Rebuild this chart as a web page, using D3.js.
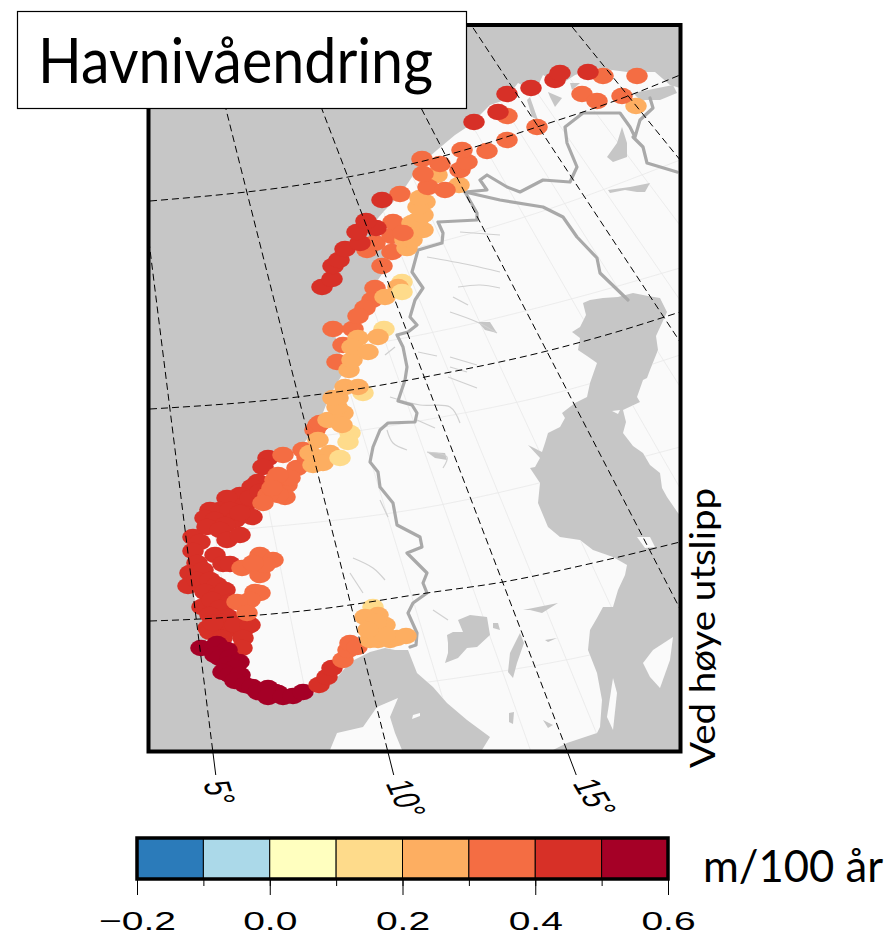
<!DOCTYPE html>
<html><head><meta charset="utf-8">
<script src="https://cdn.jsdelivr.net/npm/d3@7"></script>
<style>html,body{margin:0;padding:0;background:#fff}svg{display:block}</style>
</head><body>
<script>
// ---------- data (map grid units: east, north; value in m/100 yr) ----------
const colourBreaks = [-0.2,-0.1,0,0.1,0.2,0.3,0.4,0.5,0.6];
const colourValues = ["#2b7bba","#abd9e9","#ffffbf","#fedb8b","#fdae61","#f46d43","#d73027","#a50026"];
const colourTickLabels = [-0.2,0,0.2,0.4,0.6];
const meridianLabels = [5,10,15];
const meridiansDashed = [5,10,15,20,25,30];
const meridiansFaint = [2,4,6,8,12,14,16,18,22,24,26,28];

const stationsWest = [[118,292,.45],[113,283,.45],[108,268,.45],[102,263,.45],[90,255,.45],[77,252,.45],[95,245,.45],[100,252,.45],[110,258,.45],[70,240,.45],[60,240,.45],[80,240,.45],[55,232,.45],[65,230,.45],[85,230,.45],[75,225,.45],[102,233,.45],[90,237,.45],[57,223,.45],[70,220,.45],[77,210,.45],[90,215,.45],[43,213,.45],[50,208,.45],[43,199,.45],[65,195,.45],[47,187,.45],[73,186,.45],[80,186,.45],[40,177,.45],[53,180,.45],[38,164,.45],[47,170,.45],[60,170,.45],[67,165,.45],[55,158,.45],[68,155,.45],[75,160,.45],[52,143,.45],[62,150,.45],[80,148,.45],[70,142,.45],[78,133,.45],[60,135,.45],[72,128,.45],[88,128,.45],[58,122,.45],[93,120,.45],[77,120,.45],[60,118,.45],[72,112,.45],[85,125,.45],[100,125,.45],[93,112,.45],[92,102,.45],[63,127,.45]];
const stationsFjords = [[133,295,.35],[147,282,.35],[137,265,.35],[125,270,.35],[140,272,.35],[135,253,.35],[128,255,.35],[118,255,.35],[128,275,.35],[113,247,.35],[122,262,.35],[153,300,.35],[157,293,.35],[110,195,.35],[123,190,.35],[92,182,.35],[110,175,.35],[115,185,.35],[105,158,.35],[110,157,.35],[100,150,.35],[87,148,.35],[97,137,.35],[103,187,.35],[165,320,.35],[168,325,.35],[170,327,.35]];
const stationsSouth = [[51,102,.55],[67,106,.55],[77,100,.55],[65,95,.55],[70,92,.55],[80,92,.55],[89,88,.55],[77,85,.55],[85,82,.55],[73,78,.55],[80,75,.55],[90,75,.55],[85,69,.55],[95,65,.55],[102,63,.55],[108,58,.55],[118,62,.55],[125,58,.55],[128,57,.55],[118,53,.55],[133,53,.55],[143,54,.55],[153,58,.55],[169,65,.45],[177,73,.45],[182,82,.45],[193,90,.35],[198,100,.35],[200,107,.35],[207,103,.35]];
const stationsOslo = [[223,143,.15],[228,135,.25],[215,133,.25],[227,123,.25],[225,120,.25],[235,125,.25],[220,110,.25],[228,110,.25],[240,110,.25],[247,112,.25],[256,114,.25],[235,115,.25],[226,128,.25],[218,120,.25]];
const stationsMid = [[168,310,.25],[163,285,.25],[170,287,.25],[180,297,.25],[160,297,.25],[173,287,.25],[200,317,.15],[198,308,.15],[190,292,.15],[213,357,.15],[187,333,.25],[178,330,.25],[193,337,.25],[187,343,.25],[188,352,.25],[195,363,.25],[208,363,.25],[183,352,.25],[192,325,.25],[187,388,.35],[193,405,.35],[183,421,.35],[203,421,.35],[234,421,.15],[199,380,.25],[202,390,.25],[208,412,.25],[202,403,.25],[218,398,.25],[228,413,.25],[225,462,.35],[222,450,.35],[215,442,.35],[208,434,.35],[252,468,.15],[235,453,.25],[248,463,.25],[252,458,.15]];
const stationsHelgeland = [[217,500,.35],[225,507,.35],[242,498,.35],[232,484,.35],[242,514,.35],[243,528,.35],[250,556,.35],[257,502,.25],[263,520,.25],[255,510,.25],[262,510,.25],[273,520,.25],[262,527,.25],[268,530,.25],[273,535,.25],[275,548,.25],[268,543,.25],[270,552,.25],[253,517,.35],[172,463,.45],[182,471,.45],[183,484,.45],[189,490,.45],[195,501,.45],[210,507,.45],[207,518,.45],[226,522,.45],[216,529,.45],[232,550,.45]];
const stationsNorth = [[287,575,.25],[309,565,.25],[278,563,.35],[295,560,.35],[273,576,.35],[272,591,.35],[290,586,.35],[310,580,.35],[317,588,.35],[312,600,.35],[337,599,.35],[357,610,.35],[387,623,.35],[357,634,.35],[324,628,.45],[348,638,.45],[357,656,.45],[381,662,.45],[486,644,.25],[472,654,.35],[432,656,.35],[447,649,.35],[453,674,.35],[487,674,.35],[405,670,.45],[410,677,.45],[438,678,.45]];

const landMain = [[258,100],[245,100],[235,102],[220,98],[200,88],[185,70],[168,58],[150,52],[133,47],[115,52],[95,60],[75,72],[62,90],[55,100],[58,120],[45,150],[40,175],[45,205],[55,235],[80,255],[112,280],[150,302],[168,325],[180,355],[195,380],[185,415],[212,440],[228,470],[240,488],[235,505],[222,525],[235,540],[250,555],[270,585],[287,600],[305,615],[320,625],[340,645],[355,650],[368,667],[385,658],[393,675],[410,665],[425,675],[447,682],[477,678],[505,678],[520,665],[530,662],[530,235],[528,237],[517,253],[512,262],[510,277],[500,285],[493,297],[483,304],[473,317],[476,328],[473,340],[490,348],[487,353],[493,370],[497,372],[500,380],[508,400],[506,414],[512,427],[517,438],[510,452],[498,454],[483,457],[468,453],[453,452],[440,450],[433,447],[436,435],[430,423],[422,418],[430,412],[428,400],[437,394],[447,387],[440,367],[437,353],[425,347],[412,337],[415,332],[410,323],[398,317],[395,307],[392,298],[378,305],[390,292],[385,283],[380,282],[390,267],[388,247],[398,223],[410,213],[430,210],[443,200],[463,193],[477,185],[475,175],[468,160],[463,143],[453,143],[447,132],[440,120],[438,100],[447,77],[452,50],[450,23],[447,17],[417,7],[403,0],[332,0],[340,13],[317,30],[297,47],[283,63],[267,77]];
const landDenmark = [[180,0],[187,17],[213,23],[227,43],[248,52],[240,33],[245,17],[252,0]];
const landIslet = [[263,35],[270,37],[270,34],[262,31]];
const landGotland = [[493,87],[503,100],[523,113],[520,90],[510,62],[500,73]];
const landOland = [[463,72],[467,57],[463,20],[457,33]];
const landAland = [[487,213],[500,213],[505,203],[495,202]];
const landIslet2 = [[462,339],[470,340],[468,336]];

const lakeVanern = [[308,130],[320,135],[337,133],[340,115],[327,103],[317,102],[308,92],[295,87],[298,97],[298,107],[297,115],[303,118],[313,118]];
const lakeVattern = [[370,117],[374,107],[367,87],[363,72],[358,78],[360,97]];
const lakeMalaren = [[373,140],[408,147],[392,137],[380,140]];
const lakeHjalmaren = [[395,110],[407,112],[398,108]];
const lakeSmall = [[343,122],[350,120],[348,127],[343,127]];
const lakeInari = [[457,593],[467,607],[472,623],[477,607],[477,593],[463,588]];
const lakeFinland = [[458,560],[480,563],[500,567],[495,558],[487,558],[475,560],[460,557]];
const lakeSouth1 = [[359,37],[364,38],[363,26],[359,28]];
const lakeSouth2 = [[393,30],[403,25],[398,22]];
const lakeStor = [[328,428],[340,428],[347,417],[335,420]];
const lakeJamt = [[277,298],[295,297],[297,290],[285,292]];
const fjordVaranger = [[483,657],[523,665],[527,657],[510,650],[490,650]];
const fjordPorsanger = [[380,653],[388,630],[382,633],[377,650]];
const fjordLakse = [[398,658],[412,652],[405,643],[400,653]];
const fjordTana = [[420,667],[430,667],[422,660]];

const thinLakes = [
 [[300,438],[327,428],[347,417]],[[303,453],[318,445]],[[308,463],[330,465],[350,462]],
 [[300,393],[327,385]],[[300,383],[317,378]],[[298,373],[327,362]],
 [[240,353],[270,345],[300,343],[310,327]],[[267,330],[285,322]],[[277,298],[297,293],[293,282]],
 [[237,320],[243,307],[257,300]],[[268,398],[287,394]],[[203,192],[223,182],[235,170]],
 [[230,250],[238,233]],[[200,177],[213,157]],[[283,140],[298,130]],
 [[277,493],[320,485],[350,478]],[[310,518],[350,515]],[[235,395],[245,403]]
];

const borderNorwaySweden = [[260,103],[266,105],[267,117],[258,137],[263,147],[277,157],[273,167],[277,177],[257,197],[272,203],[270,213],[247,225],[243,247],[230,263],[228,278],[220,288],[223,303],[230,320],[238,327],[265,328],[267,337],[262,345],[248,349],[255,370],[257,383],[253,403],[247,415],[258,418],[267,425],[260,433],[265,450],[273,462],[262,478],[268,500],[292,507],[293,517],[288,528],[327,530],[327,537],[315,558],[337,560],[330,570],[337,575],[357,563],[370,558],[393,570],[420,568],[427,583],[417,607],[415,623],[433,637],[470,637],[480,623],[485,613],[490,630],[503,642],[500,652]];
const borderSwedenFinland = [[315,558],[350,550],[393,543],[413,533],[427,513],[447,492],[450,477],[478,450]];
const borderFinlandRussia = [[483,613],[493,603],[497,587],[527,578]];

const parallel60 = [[0,129],[50,131],[170,141],[277,157],[353,168],[443,187],[530,208]];
const parallel65 = [[0,341],[130,351],[220,363],[275,373],[397,399],[463,417],[530,438]];
const parallel70 = [[0,549],[150,565],[198,573],[297,595],[387,623],[478,654],[530,675]];
const parallel58 = [[83,48],[293,70],[440,95],[530,117]];
const parallel62 = [[0,214],[83,220],[290,245],[410,272],[530,303]];
const parallel64 = [[0,299],[130,309],[275,330],[410,358],[530,395]];
const parallel66 = [[0,384],[130,393],[275,416],[410,448],[530,482]];
const parallel68 = [[0,465],[150,480],[297,510],[387,537],[530,590]];

// ---------- layout ----------
const W = 891, H = 934;
const svg = d3.select("body").append("svg").attr("width",W).attr("height",H);
const SEA = "#c6c6c6", LAND = "#fafafa", BORDER = "#a9a9a9";
const x = d3.scaleLinear().domain([0,530]).range([150,680]);
const y = d3.scaleLinear().domain([0,725]).range([750,25]);
const path = d3.line().x(d=>x(d[0])).y(d=>y(d[1]));
const curve = d3.line().x(d=>x(d[0])).y(d=>y(d[1])).curve(d3.curveMonotoneX);
const smooth = d3.line().x(d=>x(d[0])).y(d=>y(d[1])).curve(d3.curveCatmullRom.alpha(0.5));
const closed = p => path(p)+"Z";

const landShapes = [landMain,landDenmark,landIslet,landGotland,landOland,landAland,landIslet2];
const waterShapes = [lakeVanern,lakeVattern,lakeMalaren,lakeHjalmaren,lakeSmall,lakeInari,lakeFinland,lakeSouth1,lakeSouth2,lakeStor,lakeJamt,fjordVaranger,fjordPorsanger,fjordLakse,fjordTana];

const defs = svg.append("defs");
defs.append("clipPath").attr("id","frameClip").append("rect").attr("x",150).attr("y",25).attr("width",530).attr("height",725);
defs.append("clipPath").attr("id","landClip").selectAll("path").data(landShapes).join("path").attr("d",closed);

const map = svg.append("g").attr("clip-path","url(#frameClip)");
map.append("rect").attr("x",150).attr("y",25).attr("width",530).attr("height",725).attr("fill",SEA);
map.selectAll("path.land").data(landShapes).join("path").attr("class","land").attr("d",closed).attr("fill",LAND);

// faint 2-degree grid, visible over land only
const APEX = [-110,1379], CONE = 0.906, STRETCH = 1.58;
const meridianEast = (lon,north) => APEX[0] + (APEX[1]-north)*STRETCH*Math.tan(CONE*lon*Math.PI/180);
const meridianLine = (lon,n0,n1) => path([[meridianEast(lon,n0),n0],[meridianEast(lon,n1),n1]]);
const faint = map.append("g").attr("clip-path","url(#landClip)").attr("fill","none").attr("stroke","#e8e8e8").attr("stroke-width",0.8);
faint.selectAll("path.m").data(meridiansFaint).join("path").attr("class","m").attr("d",d=>meridianLine(d,0,725));
faint.selectAll("path.p").data([parallel58,parallel62,parallel64,parallel66,parallel68]).join("path").attr("class","p").attr("d",curve);

map.selectAll("path.water").data(waterShapes).join("path").attr("class","water").attr("d",closed).attr("fill",SEA);
map.selectAll("path.thin").data(thinLakes).join("path").attr("class","thin").attr("d",smooth).attr("fill","none").attr("stroke","#d0d0d0").attr("stroke-width",1.2);
map.selectAll("path.border").data([borderNorwaySweden,borderSwedenFinland,borderFinlandRussia]).join("path").attr("class","border").attr("d",path)
   .attr("fill","none").attr("stroke",BORDER).attr("stroke-width",3.2).attr("stroke-linejoin","round").attr("stroke-linecap","round");

// stations
const colour = d3.scaleThreshold().domain(colourBreaks.slice(1,-1)).range(colourValues);
const stations = [...stationsWest,...stationsFjords,...stationsSouth,...stationsOslo,...stationsMid,...stationsHelgeland,...stationsNorth];
map.selectAll("ellipse").data(stations).join("ellipse")
   .attr("cx",d=>x(d[0])).attr("cy",d=>y(d[1])).attr("rx",10.8).attr("ry",8.3).attr("fill",d=>colour(d[2]));

// dashed graticule above the stations
const grat = map.append("g").attr("fill","none").attr("stroke","#000").attr("stroke-width",1).attr("stroke-dasharray","7,4");
grat.selectAll("path.m").data(meridiansDashed).join("path").attr("class","m").attr("d",d=>meridianLine(d,0,725));
grat.selectAll("path.p").data([parallel60,parallel65,parallel70]).join("path").attr("class","p").attr("d",curve);

// frame
svg.append("rect").attr("x",148.5).attr("y",25).attr("width",532).attr("height",726.5).attr("fill","none").attr("stroke","#000").attr("stroke-width",4);

// longitude ticks and labels
const TICKFONT = "'Liberation Sans',Arial,sans-serif";
svg.selectAll("line.lonTick").data(meridianLabels).join("line").attr("class","lonTick")
   .attr("x1",d=>x(meridianEast(d,-2))).attr("y1",y(-2)).attr("x2",d=>x(meridianEast(d,-25))).attr("y2",y(-25))
   .attr("stroke","#000").attr("stroke-width",1);
const lonAngle = d3.scaleLinear().domain([5,15]).range([78,68]);
const lonOffset = d3.scaleLinear().domain([5,15]).range([-14,-8]);
svg.selectAll("text.lon").data(meridianLabels).join("text").attr("class","lon")
   .attr("transform",d=>`translate(${x(meridianEast(d,-35))+lonOffset(d)},783) scale(1.5,1) rotate(${lonAngle(d)})`)
   .attr("font-family",TICKFONT).attr("font-size",25).attr("fill","#000").text(d=>d+"°");

// title
svg.append("rect").attr("x",17.5).attr("y",11.5).attr("width",449).attr("height",97).attr("fill","#fff").attr("stroke","#000").attr("stroke-width",1.2);
const TITLEFONT = "Lato,'Open Sans',sans-serif";
svg.append("text").attr("x",38).attr("y",83).attr("font-family",TITLEFONT).attr("font-size",62)
   .attr("textLength",395).attr("lengthAdjust","spacingAndGlyphs").text("Havnivåendring");
svg.append("text").attr("transform","translate(715,768) rotate(-90)").attr("font-family",TITLEFONT).attr("font-size",35)
   .attr("textLength",280).attr("lengthAdjust","spacingAndGlyphs").text("Ved høye utslipp");

// colour bar
const cb = d3.scaleLinear().domain([-0.2,0.6]).range([137,668]);
const CBTOP = 838, CBBOT = 879;
svg.selectAll("rect.cell").data(colourValues).join("rect").attr("class","cell")
   .attr("x",(d,i)=>cb(colourBreaks[i])).attr("y",CBTOP).attr("width",(d,i)=>cb(colourBreaks[i+1])-cb(colourBreaks[i])).attr("height",CBBOT-CBTOP)
   .attr("fill",d=>d).attr("stroke","#000").attr("stroke-width",1);
svg.append("rect").attr("x",cb(-0.2)).attr("y",CBTOP).attr("width",cb(0.6)-cb(-0.2)).attr("height",CBBOT-CBTOP).attr("fill","none").attr("stroke","#000").attr("stroke-width",3.5);

const axisG = svg.append("g").attr("transform",`translate(0,${CBBOT+1})`);
axisG.call(d3.axisBottom(cb).tickValues(colourBreaks).tickSize(6).tickFormat(""));
const axisMajor = svg.append("g").attr("transform",`translate(0,${CBBOT+1})`);
axisMajor.call(d3.axisBottom(cb).tickValues(colourTickLabels).tickSize(15).tickFormat(d=>d3.format(".1f")(d).replace("-","−")));
svg.selectAll(".domain").remove();
svg.selectAll(".tick line").attr("stroke","#000").attr("stroke-width",1);
axisMajor.selectAll(".tick text")
   .attr("font-family",TICKFONT).attr("font-size",26).attr("fill","#000").attr("text-anchor","middle")
   .attr("y",0).attr("dy",0).attr("transform","translate(0,50) scale(1.5,1)");

svg.append("text").attr("x",703).attr("y",882).attr("font-family",TITLEFONT).attr("font-size",44)
   .attr("textLength",180).attr("lengthAdjust","spacingAndGlyphs").text("m/100 år");
</script>
</body></html>
